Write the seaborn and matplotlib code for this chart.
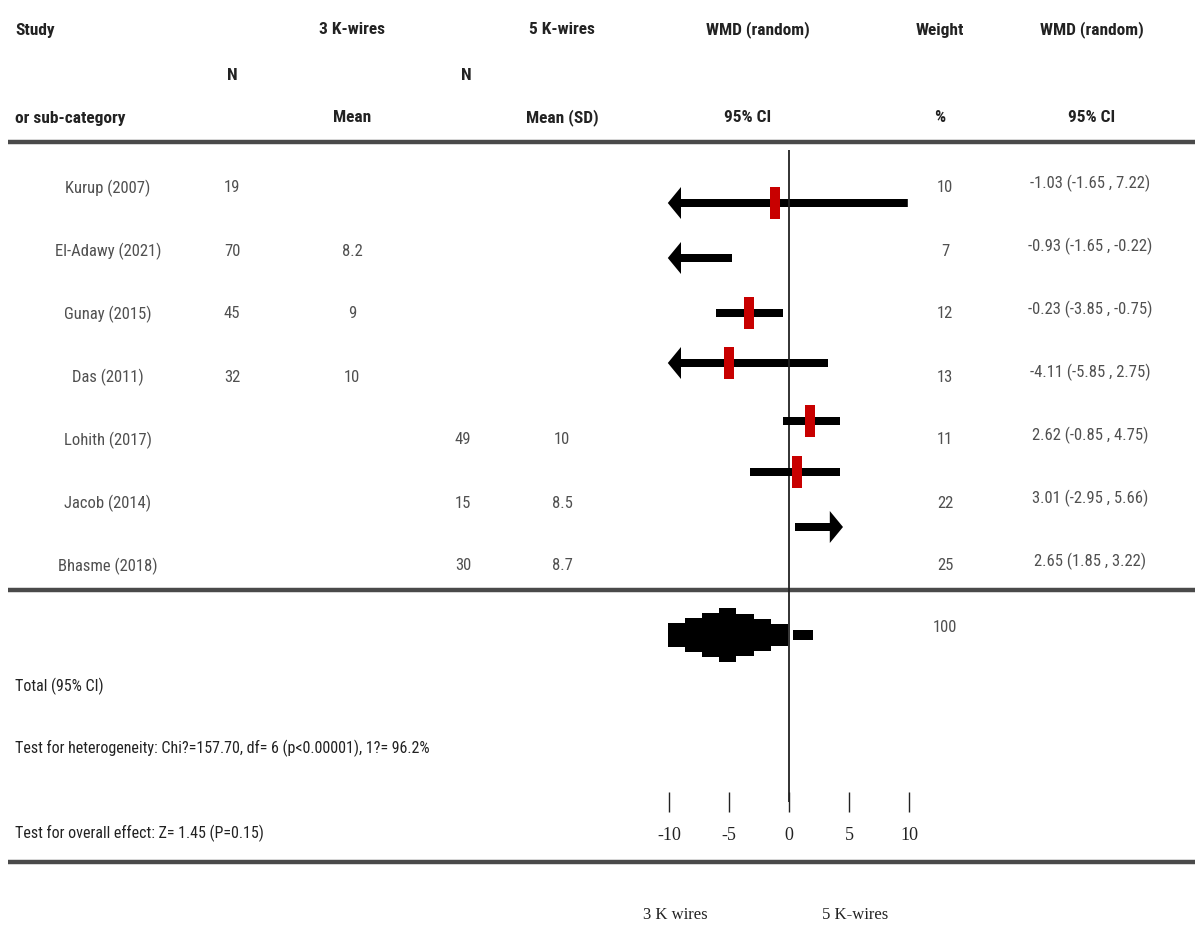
import numpy as np
import matplotlib
matplotlib.use("Agg")
import matplotlib.pyplot as plt
import matplotlib.transforms as mtransforms
from matplotlib import font_manager as fm
import seaborn as sns
import pandas as pd

# ---------------- data ----------------
studies = ["Kurup (2007)", "El-Adawy (2021)", "Gunay (2015)", "Das (2011)",
           "Lohith (2017)", "Jacob (2014)", "Bhasme (2018)"]
n_3k = ["19", "70", "45", "32", "", "", ""]
mean_3k = ["", "8.2", "9", "10", "", "", ""]
n_5k = ["", "", "", "", "49", "15", "30"]
mean_5k = ["", "", "", "", "10", "8.5", "8.7"]
weights = ["10", "7", "12", "13", "11", "22", "25"]
ci_labels = ["-1.03 (-1.65 , 7.22)", "-0.93 (-1.65 , -0.22)", "-0.23 (-3.85 , -0.75)",
             "-4.11 (-5.85 , 2.75)", "2.62 (-0.85 , 4.75)", "3.01 (-2.95 , 5.66)",
             "2.65 (1.85 , 3.22)"]
# plotted effect estimates and interval ends (read from the graphic)
est = [-1.2, np.nan, -3.3, -5.0, 1.75, 0.67, np.nan]
ci_lo = [-10.1, -10.1, -6.1, -10.1, -0.5, -3.25, 0.5]
ci_hi = [9.9, -4.75, -0.5, 3.25, 4.25, 4.25, 4.5]
arrow_left = [True, True, False, True, False, False, False]
arrow_right = [False, False, False, False, False, False, True]
total_lo, total_est, total_hi = -10.1, -5.2, -0.1
tail_lo, tail_hi = 0.33, 2.0
total_weight = "100"
ticks = [-10, -5, 0, 5, 10]
tick_labels = ["-10", "-5", "0", "5", "10"]

# ---------------- style ----------------
sns.set_theme(style="white")
avail = {f.name for f in fm.fontManager.ttflist}
NARROW = next((f for f in ["Liberation Sans Narrow", "Roboto Condensed",
                           "Open Sans Condensed", "DejaVu Sans"] if f in avail), "DejaVu Sans")
SERIF = "Liberation Serif" if "Liberation Serif" in avail else "DejaVu Serif"
plt.rcParams["font.family"] = [NARROW, "DejaVu Sans"]

W, H = 1195, 932
fig = plt.figure(figsize=(W / 100, H / 100), dpi=100)
ax = fig.add_axes([0, 0, 1, 1])
ZERO_PX, PX_PER_UNIT = 789, 12.0
ax.set_xlim((0 - ZERO_PX) / PX_PER_UNIT, (W - ZERO_PX) / PX_PER_UNIT)
ax.set_ylim(H, 0)
ax.axis("off")

colx = mtransforms.blended_transform_factory(ax.transAxes, ax.transData)


def fx(px):
    return px / W


HDR = dict(fontsize=12.5, fontweight="bold", color="#222222", transform=colx, va="center")
ROW = dict(fontsize=12, color="#505050", transform=colx, va="center", ha="center")

# header
ax.text(fx(15), 30, "Study", ha="left", **HDR)
ax.text(fx(15), 118, "or sub-category", ha="left", **HDR)
ax.text(fx(232), 75, "N", ha="center", **HDR)
ax.text(fx(352), 30, "3 K-wires", ha="center", **HDR)
ax.text(fx(352), 118, "Mean", ha="center", **HDR)
ax.text(fx(466), 75, "N", ha="center", **HDR)
ax.text(fx(562), 30, "5 K-wires", ha="center", **HDR)
ax.text(fx(562), 118, "Mean (SD)", ha="center", **HDR)
ax.text(fx(758), 30, "WMD (random)", ha="center", **HDR)
ax.text(fx(748), 118, "95% CI", ha="center", **HDR)
ax.text(fx(940), 30, "Weight", ha="center", **HDR)
ax.text(fx(940), 118, "%", ha="center", **HDR)
ax.text(fx(1092), 30, "WMD (random)", ha="center", **HDR)
ax.text(fx(1092), 118, "95% CI", ha="center", **HDR)

# horizontal rules
for yy in (142, 590, 862):
    ax.axhline(yy, xmin=fx(8), xmax=1, color="#4a4a4a", lw=3.2, solid_capstyle="butt")

# zero line
ax.vlines(0, 150, 802, color="#222222", lw=1.3)

# table rows
text_y = [188 + 63 * i for i in range(len(studies))]
ci_y = [183 + 63 * i for i in range(len(studies))]
bar_y = [203, 258, 313, 363, 421, 472, 527]
for i in range(len(studies)):
    ax.text(fx(108), text_y[i], studies[i], **ROW)
    ax.text(fx(232), text_y[i], n_3k[i], **ROW)
    ax.text(fx(352), text_y[i], mean_3k[i], **ROW)
    ax.text(fx(463), text_y[i], n_5k[i], **ROW)
    ax.text(fx(562), text_y[i], mean_5k[i], **ROW)
    ax.text(fx(945), text_y[i], weights[i], **ROW)
    ax.text(fx(1090), ci_y[i], ci_labels[i], **ROW)

# CI bars / arrows
BAR_H, HEAD_H, HEAD_L = 8, 32, 1.1
for i in range(len(studies)):
    y = bar_y[i]
    if arrow_left[i]:
        ax.arrow(ci_hi[i], y, ci_lo[i] - ci_hi[i], 0, width=BAR_H, head_width=HEAD_H,
                 head_length=HEAD_L, length_includes_head=True, fc="black", ec="none")
    elif arrow_right[i]:
        ax.arrow(ci_lo[i], y, ci_hi[i] - ci_lo[i], 0, width=BAR_H, head_width=HEAD_H,
                 head_length=HEAD_L, length_includes_head=True, fc="black", ec="none")
    else:
        ax.hlines(y, ci_lo[i], ci_hi[i], color="black", lw=BAR_H * 0.72)

# point estimates: red tall squares
df = pd.DataFrame({"est": est, "y": bar_y}).dropna()
rect = [(-0.31, -1), (0.31, -1), (0.31, 1), (-0.31, 1)]
sns.scatterplot(data=df, x="est", y="y", marker=rect, s=560, color="#c80000",
                edgecolor="none", ax=ax, zorder=5, legend=False)

# pooled (stepped) diamond
yc = 635
edges = np.linspace(total_lo, total_hi, 8)
centers = 0.5 * (edges[:-1] + edges[1:])
half = 27 * (1 - 0.67 * np.abs(centers - total_est) / (total_est - total_lo))
xs = np.r_[edges[:-1], edges[-1]]
hs = np.r_[half, half[-1]]
ax.fill_between(xs, yc - hs, yc + hs, step="post", color="black", lw=0)
ax.fill_between([tail_lo, tail_hi], yc - 5, yc + 5, color="black", lw=0)
ax.text(fx(945), 628, total_weight, **ROW)

# footer texts
FOOT = dict(fontsize=11.5, color="#222222", transform=colx, va="center", ha="left")
ax.text(fx(15), 686, "Total (95% CI)", **FOOT)
ax.text(fx(15), 748, "Test for heterogeneity: Chi?=157.70, df= 6 (p<0.00001), 1?= 96.2%", **FOOT)
ax.text(fx(15), 833, "Test for overall effect: Z= 1.45 (P=0.15)", **FOOT)

# effect axis ticks
ax.vlines(ticks, 792, 812, color="#222222", lw=1)
for t, lab in zip(ticks, tick_labels):
    ax.text(t, 835, lab, ha="center", va="center", fontsize=13, family=SERIF, color="#222222")

ax.text(fx(675), 915, "3 K wires", ha="center", va="center", fontsize=12, family=SERIF,
        color="#222222", transform=colx)
ax.text(fx(855), 915, "5 K-wires", ha="center", va="center", fontsize=12, family=SERIF,
        color="#222222", transform=colx)

fig.savefig("out.png", dpi=100)
